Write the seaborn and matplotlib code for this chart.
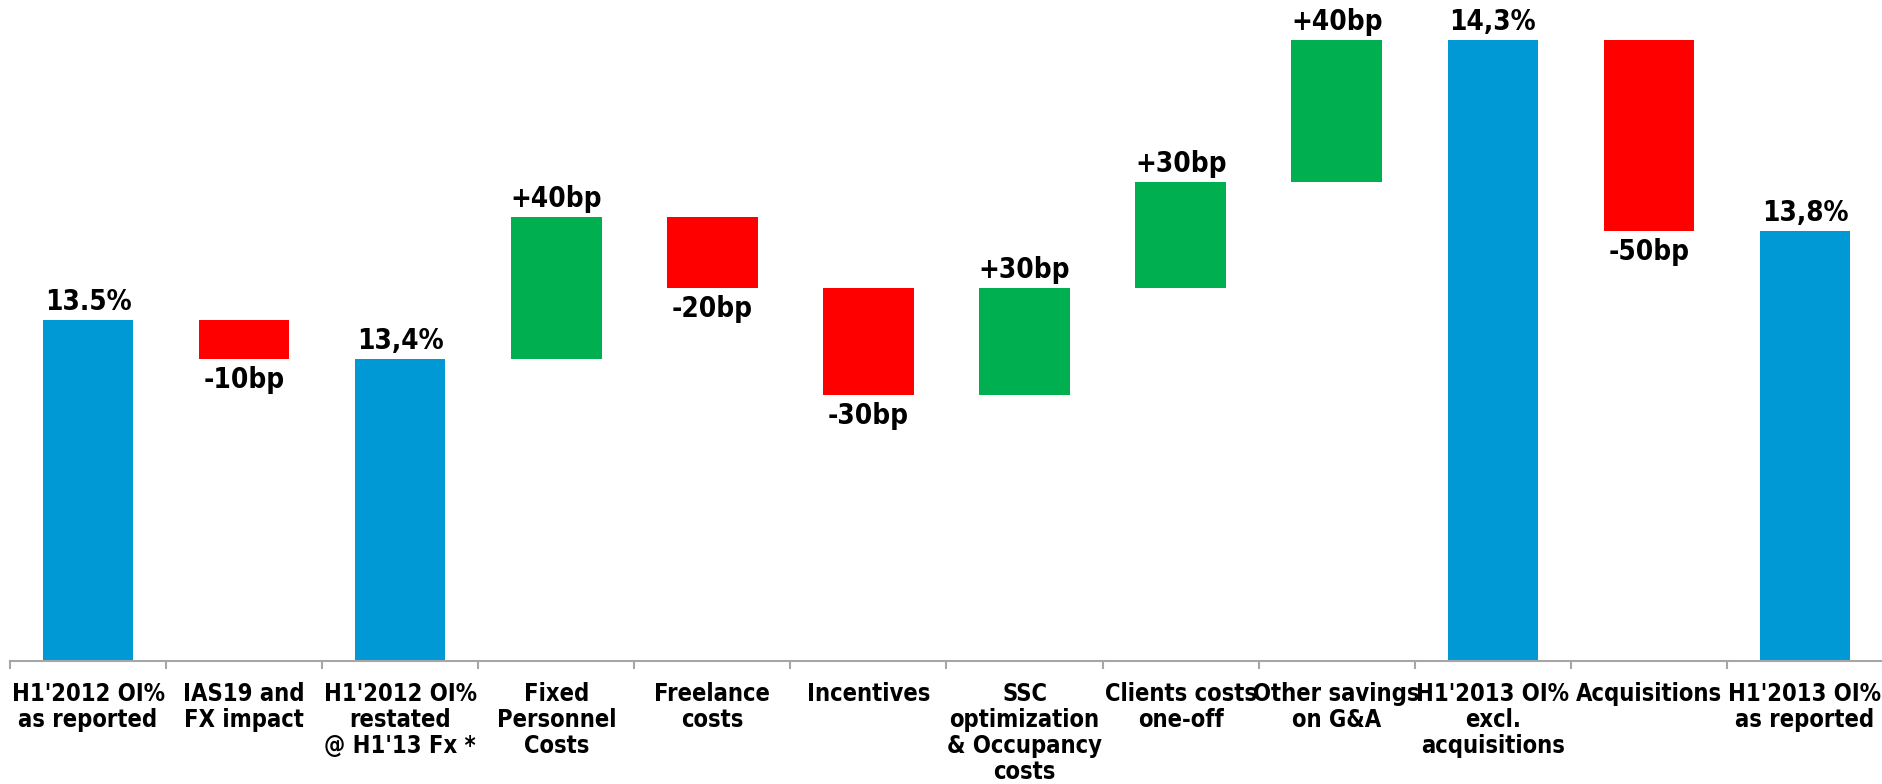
import matplotlib
matplotlib.use('Agg')
import matplotlib.pyplot as plt
import numpy as np
import seaborn as sns

CATEGORIES = [
    "H1'2012 OI%\nas reported",
    "IAS19 and\nFX impact",
    "H1'2012 OI%\nrestated\n@ H1'13 Fx *",
    "Fixed\nPersonnel\nCosts",
    "Freelance\ncosts",
    "Incentives",
    "SSC\noptimization\n& Occupancy\ncosts",
    "Clients costs\none-off",
    "Other savings\non G&A",
    "H1'2013 OI%\nexcl.\nacquisitions",
    "Acquisitions",
    "H1'2013 OI%\nas reported",
]
# bar type: total bars start at the axis floor, deltas float
KINDS = ['total', 'delta', 'total', 'delta', 'delta', 'delta',
         'delta', 'delta', 'delta', 'total', 'delta', 'total']
# totals in %, deltas in percentage points
VALUES = [13.50, -0.11, 13.39, 0.40, -0.20, -0.30, 0.30, 0.30, 0.40, 14.29, -0.54, 13.75]
LABELS = ['13.5%', '-10bp', '13,4%', '+40bp', '-20bp', '-30bp',
          '+30bp', '+30bp', '+40bp', '14,3%', '-50bp', '13,8%']

Y_FLOOR = 12.54
BLUE, GREEN, RED = '#0098D5', '#00B050', '#FF0000'

sns.set_theme(style='white')
plt.rcParams['font.family'] = ['DejaVu Sans']
plt.rcParams['font.stretch'] = 'condensed'

# waterfall bottoms / tops
bottoms, tops, colors = [], [], []
level = None
for kind, v in zip(KINDS, VALUES):
    if kind == 'total':
        bottoms.append(Y_FLOOR)
        tops.append(v)
        colors.append(BLUE)
        level = v
    else:
        new = level + v
        bottoms.append(min(level, new))
        tops.append(max(level, new))
        colors.append(GREEN if v > 0 else RED)
        level = new

W, H = 1883, 784
fig = plt.figure(figsize=(W / 100, H / 100), dpi=100)
ax = fig.add_axes([10 / W, 1 - 661 / H, 1 - 10 / W, 661 / H])

sns.barplot(x=list(range(len(CATEGORIES))), y=tops, hue=list(range(len(CATEGORIES))),
            palette=colors, width=0.58, legend=False, saturation=1, ax=ax)
for patch, b, t in zip(ax.patches, bottoms, tops):
    patch.set_y(b)
    patch.set_height(t - b)
    patch.set_edgecolor('none')

for i, (kind, v, b, t, lab) in enumerate(zip(KINDS, VALUES, bottoms, tops, LABELS)):
    if kind == 'delta' and v < 0:
        ax.annotate(lab, (i, b), xytext=(0, -5), textcoords='offset points',
                    ha='center', va='top', fontsize=20, fontweight='bold', color='black')
    else:
        ax.annotate(lab, (i, t), xytext=(0, 3), textcoords='offset points',
                    ha='center', va='bottom', fontsize=20, fontweight='bold', color='black')

ax.set_xlim(-0.5, len(CATEGORIES) - 0.5)
ax.set_ylim(Y_FLOOR, Y_FLOOR + 661 / 355)
ax.set_xticks(range(len(CATEGORIES)))
ax.set_xticklabels(CATEGORIES, fontsize=17, fontweight='bold', linespacing=1.1)
ax.set_xticks(np.arange(-0.5, len(CATEGORIES)), minor=True)
ax.tick_params(axis='x', which='major', bottom=True, length=0, pad=15, colors='black')
ax.tick_params(axis='x', which='minor', bottom=True, length=6, width=1.5,
               color='#A6A6A6', direction='out')
ax.set_yticks([])
ax.set_xlabel('')
ax.set_ylabel('')
for s in ['left', 'top', 'right']:
    ax.spines[s].set_visible(False)
ax.spines['bottom'].set_color('#A6A6A6')
ax.spines['bottom'].set_linewidth(1.5)

fig.savefig('out.png', dpi=100)
